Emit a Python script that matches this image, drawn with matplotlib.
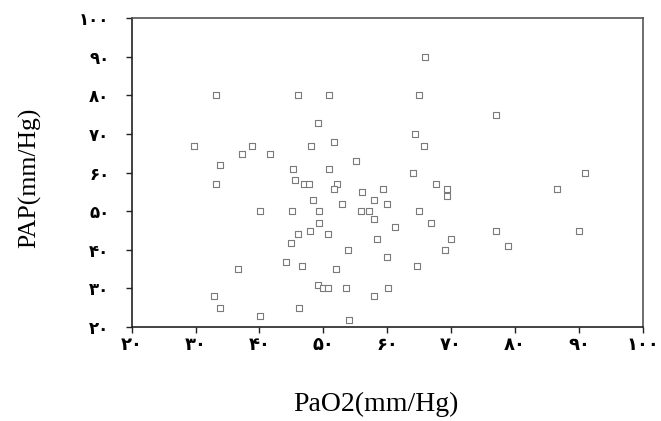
import matplotlib
matplotlib.use('Agg')
import matplotlib.pyplot as plt

# Valores (PaO2 x PAP, mm/Hg)
pao2 = [33.2, 46.0, 50.9, 65.0, 65.95, 49.1, 77.0, 64.3, 29.75, 38.9,
        48.1, 51.6, 65.7, 37.2, 41.6, 55.1, 33.9, 45.3, 50.9, 64.0,
        90.9, 33.2, 45.5, 47.0, 47.8, 52.1, 51.6, 56.0, 59.4, 67.6,
        69.3, 69.3, 86.6, 48.4, 58.0, 53.0, 59.9, 40.1, 45.1, 49.4,
        55.9, 57.2, 65.0, 58.0, 49.3, 66.9, 61.2, 46.0, 47.95, 50.8,
        58.4, 70.0, 77.0, 90.05, 44.9, 53.9, 69.0, 78.9, 44.1, 59.9,
        46.7, 64.7, 36.7, 52.0, 49.2, 49.9, 50.8, 53.6, 60.2, 32.9,
        58.0, 33.9, 46.2, 40.1, 54.0]
pap = [80.0, 80.0, 80.0, 80.0, 90.0, 72.8, 75.0, 70.0, 67.0, 67.0,
       67.0, 67.8, 67.0, 64.9, 64.9, 62.9, 61.9, 61.0, 61.0, 59.9,
       59.9, 56.9, 58.0, 56.9, 56.9, 56.9, 55.8, 54.9, 55.8, 56.9,
       55.8, 53.9, 55.8, 52.9, 52.9, 51.9, 51.9, 50.0, 50.0, 50.0,
       50.0, 50.0, 50.0, 47.9, 46.9, 46.9, 45.9, 44.0, 44.8, 44.0,
       42.8, 42.8, 44.8, 44.8, 41.8, 39.8, 39.8, 40.9, 36.9, 38.0,
       35.8, 35.8, 34.9, 34.9, 30.8, 30.0, 30.0, 30.0, 30.0, 27.9,
       27.9, 24.85, 24.85, 22.85, 21.7]

ticks = [20, 30, 40, 50, 60, 70, 80, 90, 100]
tick_labels = ['۲۰', '۳۰', '۴۰', '۵۰', '۶۰', '۷۰', '۸۰', '۹۰', '۱۰۰']

fig = plt.figure(figsize=(6.61, 4.21), dpi=100)
ax = fig.add_axes([0.1992, 0.224, 0.7731, 0.7325])

ax.scatter(pao2, pap, marker='s', s=22, facecolors='white',
           edgecolors='#7a7a7a', linewidths=0.8, zorder=3)

ax.set_xlim(20, 100)
ax.set_ylim(20, 100)
ax.set_xticks(ticks)
ax.set_yticks(ticks)
ax.set_xticklabels(tick_labels, family='DejaVu Sans', fontweight='bold', fontsize=13)
ax.set_yticklabels(tick_labels, family='DejaVu Sans', fontweight='bold', fontsize=12)
ax.tick_params(axis='x', length=4, width=1, color='#222222', pad=3)
ax.tick_params(axis='y', length=4, width=1, color='#222222', pad=12)

for side in ['left', 'bottom']:
    ax.spines[side].set_color('#222222')
    ax.spines[side].set_linewidth(1.2)
for side in ['top', 'right']:
    ax.spines[side].set_color('#555555')
    ax.spines[side].set_linewidth(1.2)

# Rótulos dos eixos (fonte serifada, como no original)
ax.set_xlabel('PaO2(mm/Hg)', family='Liberation Serif', fontsize=20)
ax.set_ylabel('PAP(mm/Hg)', family='Liberation Serif', fontsize=18.5)
ax.xaxis.set_label_coords((376 - 131.7) / 511, -0.21)
ax.yaxis.set_label_coords(-0.1765, 0.484)

fig.savefig('out.png', dpi=100)
